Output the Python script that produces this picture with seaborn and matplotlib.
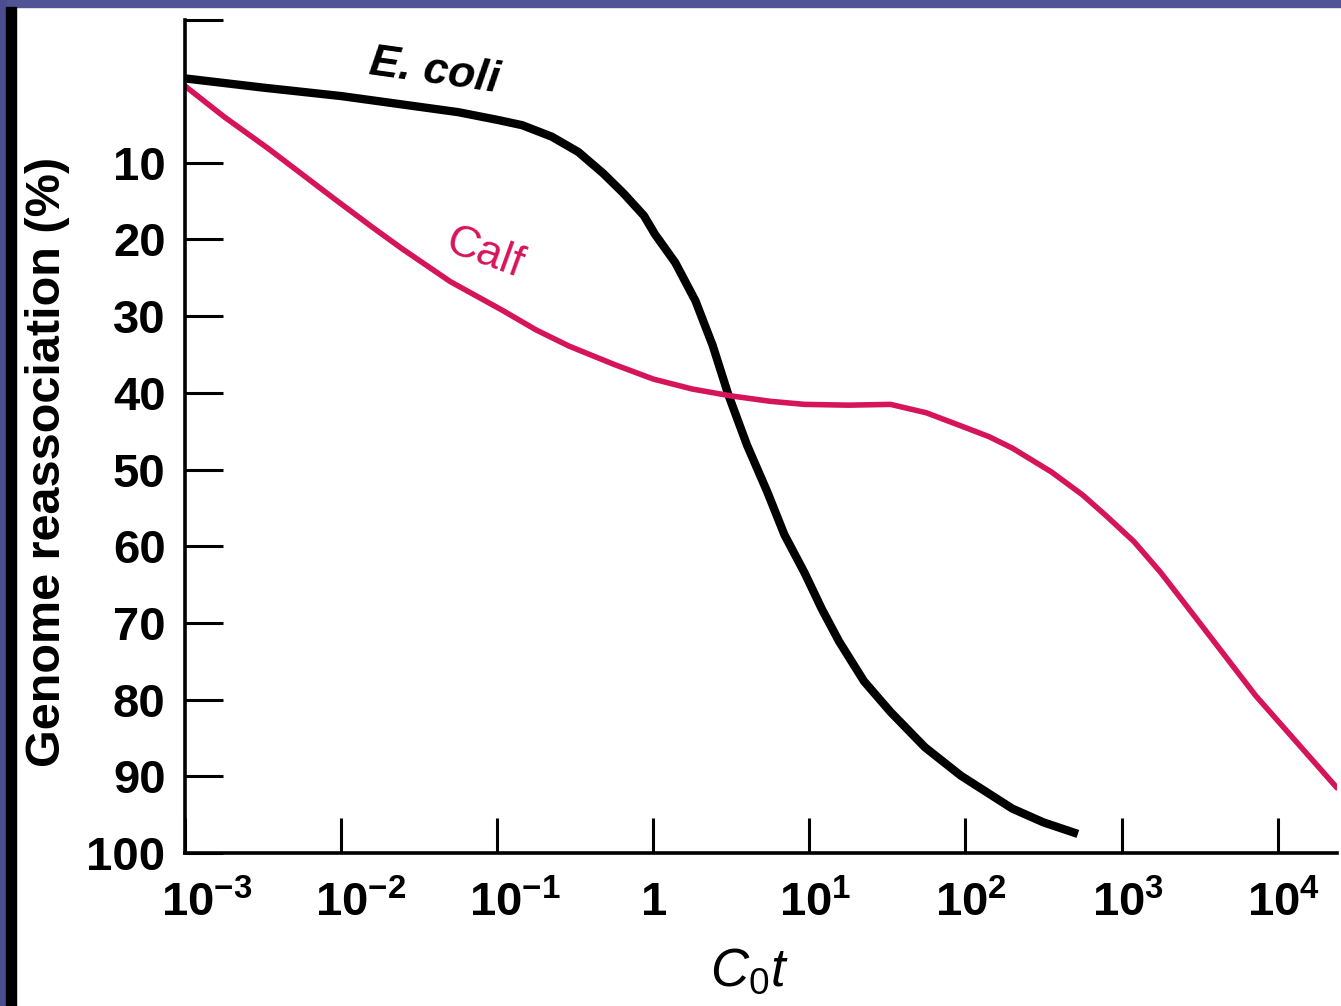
import numpy as np
import pandas as pd
import matplotlib
matplotlib.use('Agg')
import matplotlib.pyplot as plt
import matplotlib.transforms as mtransforms
import seaborn as sns
from matplotlib.patches import Rectangle

# ---- data (x as log10 of C0t, y in %) ----
ecoli_logcot = [-3.0, -2.5, -2.0, -1.5, -1.25, -1.0, -0.84, -0.65, -0.48, -0.32,
                -0.19, -0.06, 0.01, 0.14, 0.27, 0.38, 0.48, 0.6, 0.73, 0.84,
                0.97, 1.08, 1.19, 1.35, 1.52, 1.74, 1.97, 2.3, 2.5, 2.72]
ecoli_reassoc = [-1.0, 0.2, 1.3, 2.7, 3.4, 4.4, 5.1, 6.6, 8.6, 11.4,
                 14.0, 16.9, 19.3, 23.0, 28.0, 33.8, 40.2, 46.8, 52.9, 58.5,
                 63.5, 68.2, 72.4, 77.6, 81.6, 86.2, 89.9, 94.2, 96.0, 97.5]

calf_logcot = [-3.0, -2.75, -2.47, -2.25, -2.05, -1.8, -1.61, -1.3, -0.97, -0.75,
               -0.54, -0.25, 0.0, 0.25, 0.5, 0.75, 0.97, 1.25, 1.52, 1.75,
               1.97, 2.15, 2.3, 2.55, 2.75, 2.9, 3.08, 3.25, 3.41, 3.86, 4.38]
calf_reassoc = [0.0, 4.0, 8.1, 11.5, 14.6, 18.4, 21.2, 25.5, 29.2, 31.8,
                33.9, 36.3, 38.2, 39.5, 40.4, 41.1, 41.5, 41.6, 41.5, 42.6,
                44.3, 45.7, 47.2, 50.3, 53.3, 56.0, 59.4, 63.4, 67.6, 79.5, 91.5]

x_ticks = [1e-3, 1e-2, 1e-1, 1, 1e1, 1e2, 1e3, 1e4]
x_labels = [r'$\mathbf{10^{-3}}$', r'$\mathbf{10^{-2}}$', r'$\mathbf{10^{-1}}$', r'$\mathbf{1}$',
            r'$\mathbf{10^{1}}$', r'$\mathbf{10^{2}}$', r'$\mathbf{10^{3}}$', r'$\mathbf{10^{4}}$']
y_ticks = [10, 20, 30, 40, 50, 60, 70, 80, 90, 100]

df = pd.concat([
    pd.DataFrame({'cot': 10 ** np.array(ecoli_logcot), 'reassoc': ecoli_reassoc, 'genome': 'E. coli'}),
    pd.DataFrame({'cot': 10 ** np.array(calf_logcot), 'reassoc': calf_reassoc, 'genome': 'Calf'}),
])

sns.set_style('white')
plt.rcParams['font.family'] = ['Liberation Sans', 'DejaVu Sans']
plt.rcParams['text.color'] = 'black'
plt.rcParams['axes.labelcolor'] = 'black'
plt.rcParams['xtick.color'] = 'black'
plt.rcParams['ytick.color'] = 'black'
plt.rcParams['mathtext.fontset'] = 'custom'
plt.rcParams['mathtext.rm'] = 'Liberation Sans'
plt.rcParams['mathtext.bf'] = 'Liberation Sans:bold'
plt.rcParams['mathtext.it'] = 'Liberation Sans:italic'

pink = '#d6145a'
fig = plt.figure(figsize=(13.41, 10.06), dpi=100)
ax = fig.add_axes([0.138, 0.152, 0.859, 0.828])

sns.lineplot(data=df[df.genome == 'E. coli'], x='cot', y='reassoc', color='black',
             lw=6, ax=ax, solid_capstyle='butt', sort=False)
sns.lineplot(data=df[df.genome == 'Calf'], x='cot', y='reassoc', color=pink,
             lw=4, ax=ax, sort=False)

ax.set_xscale('log')
ax.set_xlim(1e-3, 10 ** 4.38)
y_top = -8.6
ax.set_ylim(100, y_top)

ax.set_xticks(x_ticks)
ax.set_xticklabels(x_labels)
ax.xaxis.set_minor_locator(matplotlib.ticker.NullLocator())
ax.set_yticks([y_top] + y_ticks)
ax.set_yticklabels([''] + [str(v) for v in y_ticks], fontweight='bold')

ax.tick_params(axis='x', bottom=True, direction='in', length=25, width=2.2,
               labelsize=34, pad=20)
ax.tick_params(axis='y', left=True, direction='in', length=27, width=2.2,
               labelsize=34, pad=14)

# "10" of each power sits over the tick, like the printed figure
offsets = [22, 20, 18, 0, 6, 6, 6, 6]
for lab, dx in zip(ax.get_xticklabels(), offsets):
    lab.set_transform(lab.get_transform() + mtransforms.ScaledTranslation(dx / 100, 0, fig.dpi_scale_trans))

for side in ['top', 'right']:
    ax.spines[side].set_visible(False)
for side in ['left', 'bottom']:
    ax.spines[side].set_linewidth(2.6)
    ax.spines[side].set_color('black')

ax.set_xlabel(r'$C_{\mathrm{0}}t$', fontsize=38)
ax.xaxis.set_label_coords(0.49, -0.112)
ax.set_ylabel('Genome reassociation (%)', fontsize=35, fontweight='bold')
ax.yaxis.set_label_coords(-0.100, 0.469)
if ax.get_legend():
    ax.get_legend().remove()

ax.text(10 ** -1.4, -1.9, 'E. coli', style='italic', fontweight='bold', fontsize=32,
        rotation=-8, ha='center', va='center')
ax.text(10 ** -1.08, 21.9, 'Calf', color=pink, fontsize=32, rotation=-20,
        ha='center', va='center')

# slide frame strips
fig.patches.append(Rectangle((0, 1 - 7 / 1006), 1, 7 / 1006, transform=fig.transFigure,
                             color='#505496', zorder=0))
fig.patches.append(Rectangle((0, 0), 6 / 1341, 1, transform=fig.transFigure,
                             color='#4a4e8e', zorder=0))
fig.patches.append(Rectangle((6 / 1341, 0), 10 / 1341, 1 - 7 / 1006, transform=fig.transFigure,
                             color='black', zorder=0))

fig.savefig('out.png', dpi=100)
